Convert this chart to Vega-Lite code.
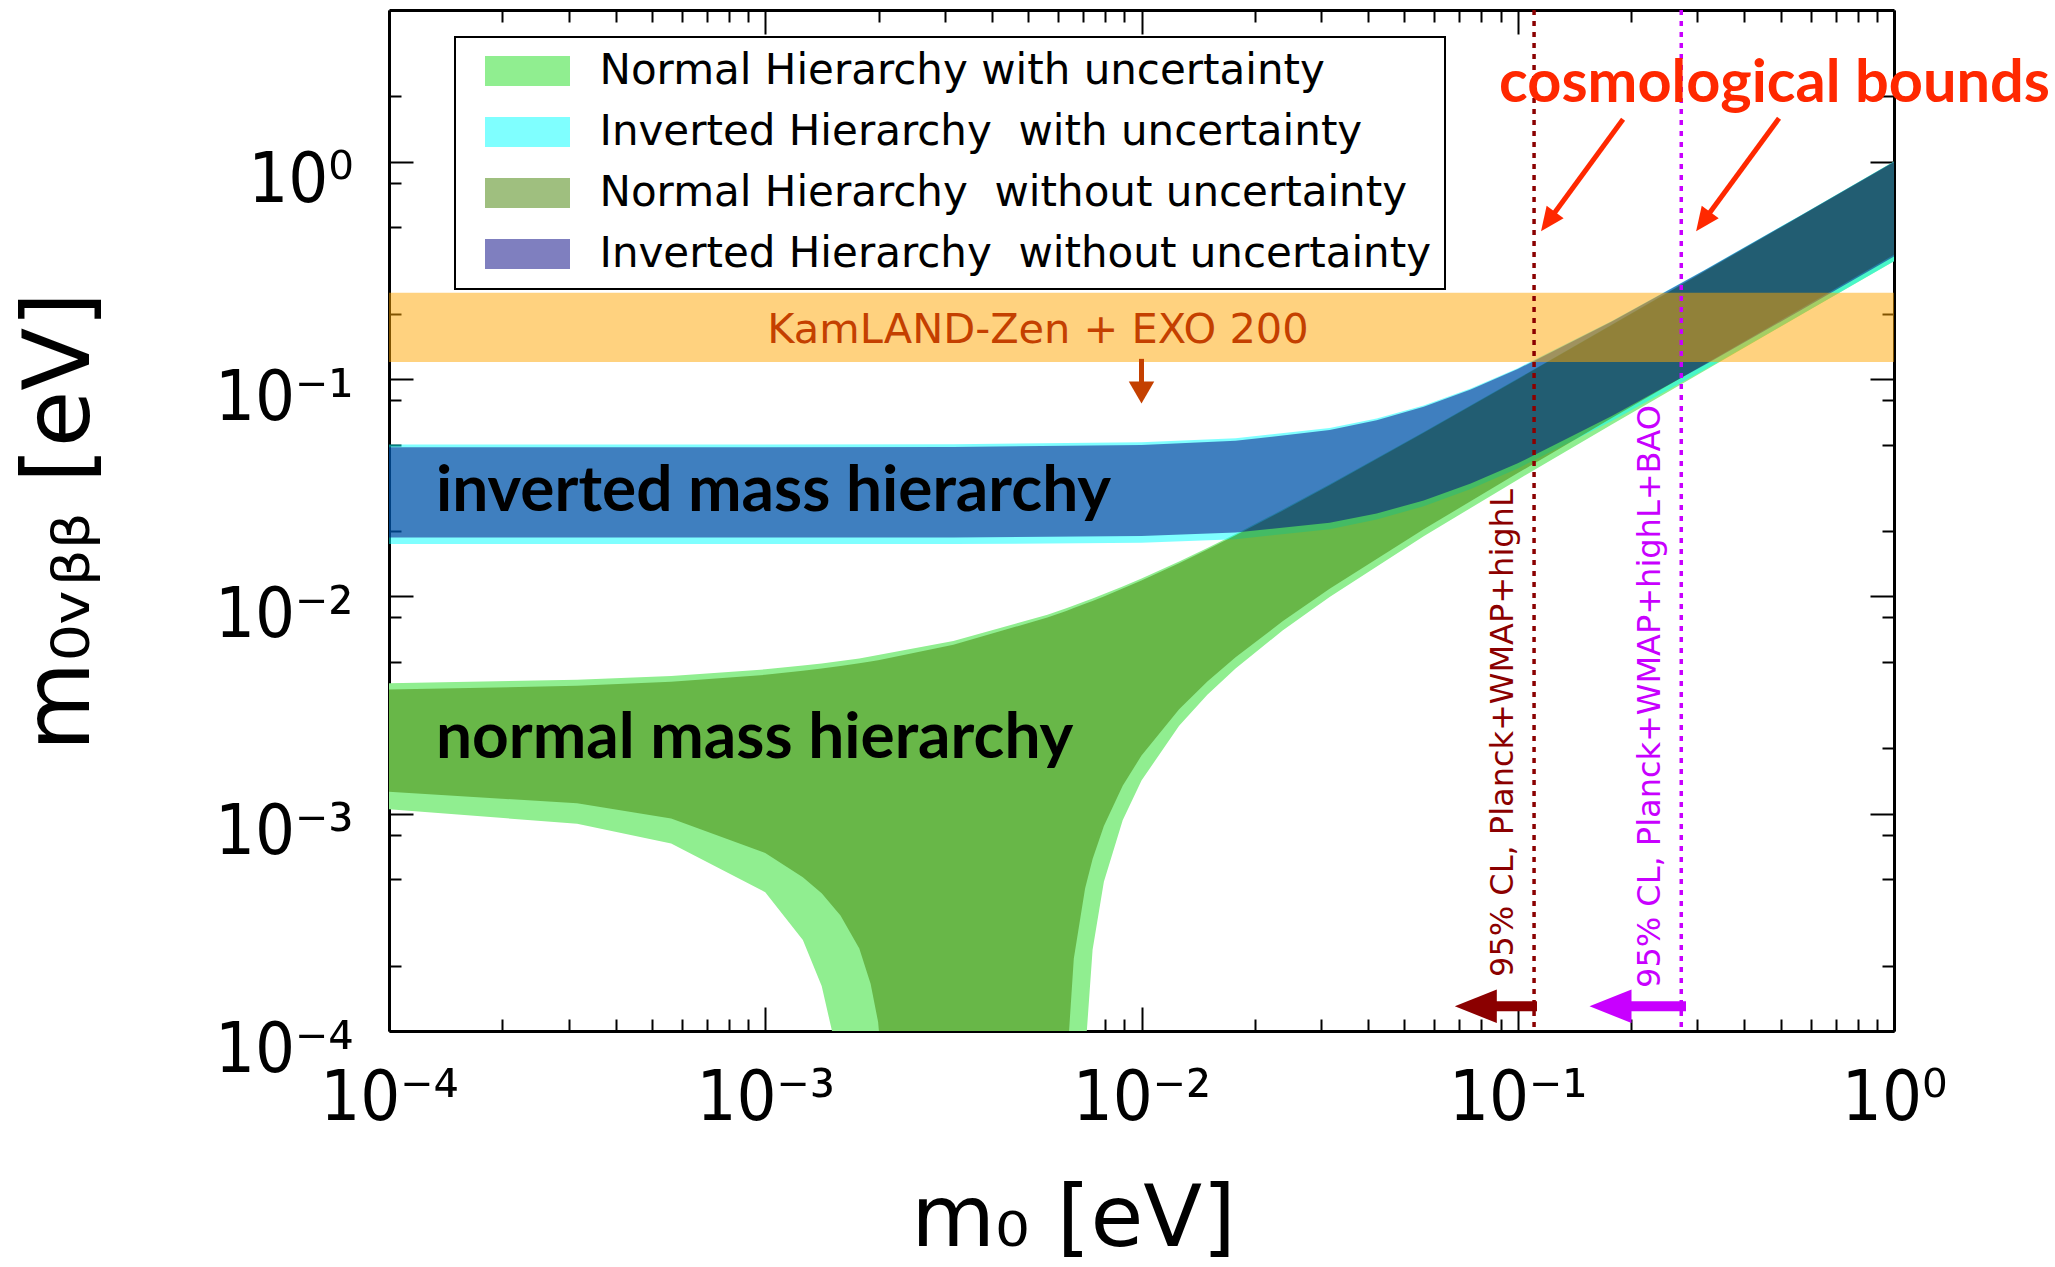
{
  "$schema": "https://vega.github.io/schema/vega-lite/v6.json",
  "width": 1505,
  "height": 1021,
  "autosize": {"type": "none"},
  "padding": {"left": 389, "top": 10, "right": 161, "bottom": 236},
  "background": "white",
  "config": {
    "view": {"stroke": null},
    "axis": {
      "grid": false,
      "domainColor": "black",
      "domainWidth": 3,
      "tickColor": "black",
      "tickWidth": 2,
      "labelColor": "black",
      "titleColor": "black",
      "labelFont": "DejaVu Sans Condensed, DejaVu Sans",
      "labelFontSize": 70,
      "titleFont": "DejaVu Sans",
      "titleFontSize": 90,
      "titleFontWeight": "normal",
      "labelOverlap": false,
      "labelFlush": false,
      "labelBound": false
    },
    "legend": {
      "orient": "none",
      "legendX": 66,
      "legendY": 27,
      "padding": 13.5,
      "strokeColor": "black",
      "strokeWidth": 2,
      "fillColor": "white",
      "symbolType": "M-1,-0.353H1V0.353H-1Z",
      "symbolSize": 7225,
      "symbolStrokeWidth": 0,
      "symbolOffset": 16.5,
      "labelOffset": 29.5,
      "labelFont": "DejaVu Sans",
      "labelFontSize": 42,
      "labelColor": "black",
      "labelLimit": 0,
      "rowPadding": 18,
      "clipHeight": 41
    }
  },
  "datasets": {
    "nh_with": [
      {"series": "Normal Hierarchy with uncertainty", "m0": 0.0001, "upper": 0.003988, "lower": 0.001049},
      {"series": "Normal Hierarchy with uncertainty", "m0": 0.0003162, "upper": 0.004137, "lower": 0.000899},
      {"series": "Normal Hierarchy with uncertainty", "m0": 0.0005623, "upper": 0.004307, "lower": 0.00073},
      {"series": "Normal Hierarchy with uncertainty", "m0": 0.001, "upper": 0.004617, "lower": 0.000435},
      {"series": "Normal Hierarchy with uncertainty", "m0": 0.0012589, "upper": 0.004804, "lower": 0.000262},
      {"series": "Normal Hierarchy with uncertainty", "m0": 0.0014125, "upper": 0.004915, "lower": 0.000161},
      {"series": "Normal Hierarchy with uncertainty", "m0": 0.0015136, "upper": 0.004989, "lower": 0.0000956},
      {"series": "Normal Hierarchy with uncertainty", "m0": 0.0015849, "upper": 0.005041, "lower": 0.0000492},
      {"series": "Normal Hierarchy with uncertainty", "m0": 0.0017783, "upper": 0.005184, "lower": 0.00001},
      {"series": "Normal Hierarchy with uncertainty", "m0": 0.0031623, "upper": 0.006239, "lower": 0.00001},
      {"series": "Normal Hierarchy with uncertainty", "m0": 0.0056234, "upper": 0.008245, "lower": 0.00001},
      {"series": "Normal Hierarchy with uncertainty", "m0": 0.0063096, "upper": 0.008829, "lower": 0.00001},
      {"series": "Normal Hierarchy with uncertainty", "m0": 0.0066069, "upper": 0.009085, "lower": 0.00001},
      {"series": "Normal Hierarchy with uncertainty", "m0": 0.0070795, "upper": 0.009495, "lower": 0.0000769},
      {"series": "Normal Hierarchy with uncertainty", "m0": 0.0074131, "upper": 0.009786, "lower": 0.0002365},
      {"series": "Normal Hierarchy with uncertainty", "m0": 0.0079433, "upper": 0.010253, "lower": 0.000486},
      {"series": "Normal Hierarchy with uncertainty", "m0": 0.0089125, "upper": 0.011116, "lower": 0.000934},
      {"series": "Normal Hierarchy with uncertainty", "m0": 0.01, "upper": 0.012098, "lower": 0.001422},
      {"series": "Normal Hierarchy with uncertainty", "m0": 0.0125893, "upper": 0.014481, "lower": 0.00254},
      {"series": "Normal Hierarchy with uncertainty", "m0": 0.0149624, "upper": 0.016705, "lower": 0.003524},
      {"series": "Normal Hierarchy with uncertainty", "m0": 0.0177828, "upper": 0.019383, "lower": 0.004659},
      {"series": "Normal Hierarchy with uncertainty", "m0": 0.0237137, "upper": 0.025094, "lower": 0.006967},
      {"series": "Normal Hierarchy with uncertainty", "m0": 0.0316228, "upper": 0.032808, "lower": 0.009947},
      {"series": "Normal Hierarchy with uncertainty", "m0": 0.0562341, "upper": 0.057112, "lower": 0.018916},
      {"series": "Normal Hierarchy with uncertainty", "m0": 0.1, "upper": 0.10073, "lower": 0.034471},
      {"series": "Normal Hierarchy with uncertainty", "m0": 0.1778279, "upper": 0.178611, "lower": 0.061815},
      {"series": "Normal Hierarchy with uncertainty", "m0": 0.3162278, "upper": 0.317318, "lower": 0.110225},
      {"series": "Normal Hierarchy with uncertainty", "m0": 0.5623413, "upper": 0.564107, "lower": 0.196176},
      {"series": "Normal Hierarchy with uncertainty", "m0": 1, "upper": 1.003045, "lower": 0.348955}
    ],
    "ih_with": [
      {"series": "Inverted Hierarchy\u00a0 with uncertainty", "m0": 0.0001, "upper": 0.050062, "lower": 0.017426},
      {"series": "Inverted Hierarchy\u00a0 with uncertainty", "m0": 0.001, "upper": 0.050094, "lower": 0.017417},
      {"series": "Inverted Hierarchy\u00a0 with uncertainty", "m0": 0.0031623, "upper": 0.050232, "lower": 0.017419},
      {"series": "Inverted Hierarchy\u00a0 with uncertainty", "m0": 0.01, "upper": 0.051247, "lower": 0.017653},
      {"series": "Inverted Hierarchy\u00a0 with uncertainty", "m0": 0.0177828, "upper": 0.053422, "lower": 0.018321},
      {"series": "Inverted Hierarchy\u00a0 with uncertainty", "m0": 0.0316228, "upper": 0.059601, "lower": 0.020402},
      {"series": "Inverted Hierarchy\u00a0 with uncertainty", "m0": 0.0421697, "upper": 0.065873, "lower": 0.022575},
      {"series": "Inverted Hierarchy\u00a0 with uncertainty", "m0": 0.0562341, "upper": 0.075719, "lower": 0.026014},
      {"series": "Inverted Hierarchy\u00a0 with uncertainty", "m0": 0.0749894, "upper": 0.090596, "lower": 0.031222},
      {"series": "Inverted Hierarchy\u00a0 with uncertainty", "m0": 0.1, "upper": 0.112268, "lower": 0.038803},
      {"series": "Inverted Hierarchy\u00a0 with uncertainty", "m0": 0.1778279, "upper": 0.185246, "lower": 0.064265},
      {"series": "Inverted Hierarchy\u00a0 with uncertainty", "m0": 0.3162278, "upper": 0.320885, "lower": 0.111488},
      {"series": "Inverted Hierarchy\u00a0 with uncertainty", "m0": 0.5623413, "upper": 0.565739, "lower": 0.196662},
      {"series": "Inverted Hierarchy\u00a0 with uncertainty", "m0": 1, "upper": 1.00328, "lower": 0.348818}
    ],
    "nh_without": [
      {"series": "Normal Hierarchy\u00a0 without uncertainty", "m0": 0.0001, "upper": 0.003726, "lower": 0.001263},
      {"series": "Normal Hierarchy\u00a0 without uncertainty", "m0": 0.0003162, "upper": 0.003876, "lower": 0.001116},
      {"series": "Normal Hierarchy\u00a0 without uncertainty", "m0": 0.0005623, "upper": 0.004048, "lower": 0.000951},
      {"series": "Normal Hierarchy\u00a0 without uncertainty", "m0": 0.001, "upper": 0.004359, "lower": 0.00066},
      {"series": "Normal Hierarchy\u00a0 without uncertainty", "m0": 0.0012589, "upper": 0.004546, "lower": 0.00051},
      {"series": "Normal Hierarchy\u00a0 without uncertainty", "m0": 0.0014125, "upper": 0.004659, "lower": 0.00043},
      {"series": "Normal Hierarchy\u00a0 without uncertainty", "m0": 0.0015849, "upper": 0.004785, "lower": 0.00034},
      {"series": "Normal Hierarchy\u00a0 without uncertainty", "m0": 0.0017783, "upper": 0.004928, "lower": 0.00024},
      {"series": "Normal Hierarchy\u00a0 without uncertainty", "m0": 0.0019055, "upper": 0.00502, "lower": 0.000165},
      {"series": "Normal Hierarchy\u00a0 without uncertainty", "m0": 0.0019953, "upper": 0.00509, "lower": 0.00011},
      {"series": "Normal Hierarchy\u00a0 without uncertainty", "m0": 0.0020417, "upper": 0.00512, "lower": 0.00007},
      {"series": "Normal Hierarchy\u00a0 without uncertainty", "m0": 0.0031623, "upper": 0.005987, "lower": 0.00001},
      {"series": "Normal Hierarchy\u00a0 without uncertainty", "m0": 0.0056234, "upper": 0.007997, "lower": 0.00001},
      {"series": "Normal Hierarchy\u00a0 without uncertainty", "m0": 0.0063096, "upper": 0.008581, "lower": 0.0000633},
      {"series": "Normal Hierarchy\u00a0 without uncertainty", "m0": 0.0066069, "upper": 0.008837, "lower": 0.000215},
      {"series": "Normal Hierarchy\u00a0 without uncertainty", "m0": 0.0070795, "upper": 0.009246, "lower": 0.000453},
      {"series": "Normal Hierarchy\u00a0 without uncertainty", "m0": 0.0074131, "upper": 0.009537, "lower": 0.000619},
      {"series": "Normal Hierarchy\u00a0 without uncertainty", "m0": 0.0079433, "upper": 0.010004, "lower": 0.000878},
      {"series": "Normal Hierarchy\u00a0 without uncertainty", "m0": 0.0089125, "upper": 0.010866, "lower": 0.001344},
      {"series": "Normal Hierarchy\u00a0 without uncertainty", "m0": 0.01, "upper": 0.011847, "lower": 0.001853},
      {"series": "Normal Hierarchy\u00a0 without uncertainty", "m0": 0.0125893, "upper": 0.014225, "lower": 0.003022},
      {"series": "Normal Hierarchy\u00a0 without uncertainty", "m0": 0.0149624, "upper": 0.016443, "lower": 0.004055},
      {"series": "Normal Hierarchy\u00a0 without uncertainty", "m0": 0.0177828, "upper": 0.019113, "lower": 0.005249},
      {"series": "Normal Hierarchy\u00a0 without uncertainty", "m0": 0.0237137, "upper": 0.024805, "lower": 0.007683},
      {"series": "Normal Hierarchy\u00a0 without uncertainty", "m0": 0.0316228, "upper": 0.032485, "lower": 0.010839},
      {"series": "Normal Hierarchy\u00a0 without uncertainty", "m0": 0.0562341, "upper": 0.056666, "lower": 0.020374},
      {"series": "Normal Hierarchy\u00a0 without uncertainty", "m0": 0.1, "upper": 0.10003, "lower": 0.03697},
      {"series": "Normal Hierarchy\u00a0 without uncertainty", "m0": 0.1778279, "upper": 0.177427, "lower": 0.066201},
      {"series": "Normal Hierarchy\u00a0 without uncertainty", "m0": 0.3162278, "upper": 0.315248, "lower": 0.117988},
      {"series": "Normal Hierarchy\u00a0 without uncertainty", "m0": 0.5623413, "upper": 0.560443, "lower": 0.209963},
      {"series": "Normal Hierarchy\u00a0 without uncertainty", "m0": 1, "upper": 0.99654, "lower": 0.37346}
    ],
    "ih_without": [
      {"series": "Inverted Hierarchy\u00a0 without uncertainty", "m0": 0.0001, "upper": 0.04861, "lower": 0.018686},
      {"series": "Inverted Hierarchy\u00a0 without uncertainty", "m0": 0.001, "upper": 0.048637, "lower": 0.018681},
      {"series": "Inverted Hierarchy\u00a0 without uncertainty", "m0": 0.0031623, "upper": 0.04877, "lower": 0.018693},
      {"series": "Inverted Hierarchy\u00a0 without uncertainty", "m0": 0.01, "upper": 0.04979, "lower": 0.018961},
      {"series": "Inverted Hierarchy\u00a0 without uncertainty", "m0": 0.0177828, "upper": 0.051997, "lower": 0.019669},
      {"series": "Inverted Hierarchy\u00a0 without uncertainty", "m0": 0.0316228, "upper": 0.058275, "lower": 0.021833},
      {"series": "Inverted Hierarchy\u00a0 without uncertainty", "m0": 0.0421697, "upper": 0.064631, "lower": 0.024085},
      {"series": "Inverted Hierarchy\u00a0 without uncertainty", "m0": 0.0562341, "upper": 0.074579, "lower": 0.027656},
      {"series": "Inverted Hierarchy\u00a0 without uncertainty", "m0": 0.0749894, "upper": 0.089559, "lower": 0.033076},
      {"series": "Inverted Hierarchy\u00a0 without uncertainty", "m0": 0.1, "upper": 0.111312, "lower": 0.040988},
      {"series": "Inverted Hierarchy\u00a0 without uncertainty", "m0": 0.1778279, "upper": 0.184315, "lower": 0.067648},
      {"series": "Inverted Hierarchy\u00a0 without uncertainty", "m0": 0.3162278, "upper": 0.319708, "lower": 0.117199},
      {"series": "Inverted Hierarchy\u00a0 without uncertainty", "m0": 0.5623413, "upper": 0.563923, "lower": 0.206642},
      {"series": "Inverted Hierarchy\u00a0 without uncertainty", "m0": 1, "upper": 1.000207, "lower": 0.366464}
    ]
  },
  "layer": [
    {
      "layer": [
        {
          "data": {"name": "nh_with"},
          "mark": {"type": "area", "clip": true},
          "encoding": {
            "x": {
              "field": "m0", "type": "quantitative",
              "scale": {"type": "log", "domain": [0.0001, 1], "nice": false},
              "axis": {
                "orient": "bottom",
                "values": [0.0001,0.0002,0.0003,0.0004,0.0005,0.0006,0.0007,0.0008,0.0009,0.001,0.002,0.003,0.004,0.005,0.006,0.007,0.008,0.009,0.01,0.02,0.03,0.04,0.05,0.06,0.07,0.08,0.09,0.1,0.2,0.3,0.4,0.5,0.6,0.7,0.8,0.9,1],
                "tickSize": {"condition": {"test": "abs(log(datum.value) / LN10 - round(log(datum.value) / LN10)) < 0.01", "value": -24}, "value": -12},
                "labelExpr": "abs(log(datum.value) / LN10 - round(log(datum.value) / LN10)) < 0.01 ? '10' + (round(log(datum.value) / LN10) == 0 ? '\u2070' : '\u207b' + ['', '\u00b9', '\u00b2', '\u00b3', '\u2074'][-round(log(datum.value) / LN10)]) : ''",
                "labelPadding": 57,
                "labelBaseline": "top",
                "title": "m\u2080 [eV]",
                "titleFontSize": 86,
                "titleX": 684,
                "titleY": 214,
                "titleAlign": "center",
                "titleBaseline": "alphabetic"
              }
            },
            "y": {
              "field": "upper", "type": "quantitative",
              "scale": {"type": "log", "domain": [0.0001, 5], "nice": false},
              "axis": {
                "orient": "left",
                "values": [0.0001,0.0002,0.0005,0.0008,0.001,0.002,0.005,0.008,0.01,0.02,0.05,0.08,0.1,0.2,0.5,0.8,1,2],
                "tickSize": {"condition": {"test": "abs(log(datum.value) / LN10 - round(log(datum.value) / LN10)) < 0.01", "value": -24}, "value": -12},
                "labelExpr": "abs(log(datum.value) / LN10 - round(log(datum.value) / LN10)) < 0.01 ? '10' + (round(log(datum.value) / LN10) == 0 ? '\u2070' : '\u207b' + ['', '\u00b9', '\u00b2', '\u00b3', '\u2074'][-round(log(datum.value) / LN10)]) : ''",
                "labelPadding": 60,
                "labelOffset": 19,
                "labelAlign": "right",
                "labelBaseline": "middle",
                "title": "m\u2080\u1d65\u1d66\u1d66 [eV]",
                "titleFontSize": 92,
                "titleAngle": 270,
                "titleX": -301,
                "titleY": 511,
                "titleAlign": "center",
                "titleBaseline": "alphabetic"
              }
            },
            "y2": {"field": "lower"},
            "color": {
              "field": "series", "type": "nominal",
              "scale": {
                "domain": ["Normal Hierarchy with uncertainty", "Inverted Hierarchy\u00a0 with uncertainty", "Normal Hierarchy\u00a0 without uncertainty", "Inverted Hierarchy\u00a0 without uncertainty"],
                "range": ["#90ee90", "#00ffff", "#408000", "#000080"]
              },
              "legend": {"title": null}
            },
            "opacity": {
              "field": "series", "type": "nominal",
              "scale": {
                "type": "ordinal",
                "domain": ["Normal Hierarchy with uncertainty", "Inverted Hierarchy\u00a0 with uncertainty", "Normal Hierarchy\u00a0 without uncertainty", "Inverted Hierarchy\u00a0 without uncertainty"],
                "range": [1, 0.5, 0.5, 0.5]
              },
              "legend": {"title": null}
            }
          }
        },
        {
          "data": {"name": "ih_with"},
          "mark": {"type": "area", "clip": true},
          "encoding": {
            "x": {"field": "m0", "type": "quantitative", "scale": {"type": "log", "domain": [0.0001, 1], "nice": false}, "axis": {"orient": "bottom"}},
            "y": {"field": "upper", "type": "quantitative", "scale": {"type": "log", "domain": [0.0001, 5], "nice": false}, "axis": {"orient": "left"}},
            "y2": {"field": "lower"},
            "color": {"field": "series", "type": "nominal", "legend": {"title": null}},
            "opacity": {"field": "series", "type": "nominal", "scale": {"type": "ordinal"}, "legend": {"title": null}}
          }
        },
        {
          "data": {"name": "nh_without"},
          "mark": {"type": "area", "clip": true},
          "encoding": {
            "x": {"field": "m0", "type": "quantitative", "scale": {"type": "log", "domain": [0.0001, 1], "nice": false}, "axis": {"orient": "bottom"}},
            "y": {"field": "upper", "type": "quantitative", "scale": {"type": "log", "domain": [0.0001, 5], "nice": false}, "axis": {"orient": "left"}},
            "y2": {"field": "lower"},
            "color": {"field": "series", "type": "nominal", "legend": {"title": null}},
            "opacity": {"field": "series", "type": "nominal", "scale": {"type": "ordinal"}, "legend": {"title": null}}
          }
        },
        {
          "data": {"name": "ih_without"},
          "mark": {"type": "area", "clip": true},
          "encoding": {
            "x": {"field": "m0", "type": "quantitative", "scale": {"type": "log", "domain": [0.0001, 1], "nice": false}, "axis": {"orient": "bottom"}},
            "y": {"field": "upper", "type": "quantitative", "scale": {"type": "log", "domain": [0.0001, 5], "nice": false}, "axis": {"orient": "left"}},
            "y2": {"field": "lower"},
            "color": {"field": "series", "type": "nominal", "legend": {"title": null}},
            "opacity": {"field": "series", "type": "nominal", "scale": {"type": "ordinal"}, "legend": {"title": null}}
          }
        },
        {
          "data": {"values": [{"upper": 0.25, "lower": 0.12}]},
          "mark": {"type": "rect", "color": "#ffa500", "opacity": 0.5},
          "encoding": {
            "y": {"field": "upper", "type": "quantitative", "scale": {"type": "log", "domain": [0.0001, 5], "nice": false}, "axis": {"orient": "left"}},
            "y2": {"field": "lower"}
          }
        },
        {
          "data": {"values": [{"m0": 0.005307, "v": 0.146, "label": "KamLAND-Zen + EXO 200"}]},
          "mark": {"type": "text", "font": "DejaVu Sans", "fontSize": 41.5, "color": "#c44000", "align": "center", "baseline": "alphabetic"},
          "encoding": {
            "x": {"field": "m0", "type": "quantitative", "scale": {"type": "log", "domain": [0.0001, 1], "nice": false}, "axis": {"orient": "bottom"}},
            "y": {"field": "v", "type": "quantitative", "scale": {"type": "log", "domain": [0.0001, 5], "nice": false}, "axis": {"orient": "left"}},
            "text": {"field": "label"}
          }
        },
        {
          "data": {"values": [{"m0": 0.01, "v": 0.124, "v_end": 0.088}]},
          "mark": {"type": "rule", "color": "#c44000", "strokeWidth": 5},
          "encoding": {
            "x": {"field": "m0", "type": "quantitative", "scale": {"type": "log", "domain": [0.0001, 1], "nice": false}, "axis": {"orient": "bottom"}},
            "y": {"field": "v", "type": "quantitative", "scale": {"type": "log", "domain": [0.0001, 5], "nice": false}, "axis": {"orient": "left"}},
            "y2": {"field": "v_end"}
          }
        },
        {
          "data": {"values": [{"m0": 0.01, "v": 0.0868}]},
          "mark": {"type": "point", "shape": "triangle-down", "size": 650, "filled": true, "opacity": 1, "color": "#c44000"},
          "encoding": {
            "x": {"field": "m0", "type": "quantitative", "scale": {"type": "log", "domain": [0.0001, 1], "nice": false}, "axis": {"orient": "bottom"}},
            "y": {"field": "v", "type": "quantitative", "scale": {"type": "log", "domain": [0.0001, 5], "nice": false}, "axis": {"orient": "left"}}
          }
        },
        {
          "data": {"values": [
            {"m0": 0.0001333, "v": 0.02485, "label": "inverted mass hierarchy"},
            {"m0": 0.0001333, "v": 0.001809, "label": "normal mass hierarchy"}
          ]},
          "mark": {"type": "text", "font": "Lato", "fontWeight": "bold", "fontSize": 64, "color": "black", "align": "left", "baseline": "alphabetic"},
          "encoding": {
            "x": {"field": "m0", "type": "quantitative", "scale": {"type": "log", "domain": [0.0001, 1], "nice": false}, "axis": {"orient": "bottom"}},
            "y": {"field": "v", "type": "quantitative", "scale": {"type": "log", "domain": [0.0001, 5], "nice": false}, "axis": {"orient": "left"}},
            "text": {"field": "label"}
          }
        }
      ]
    },
    {
      "layer": [
        {
          "data": {"values": [{"m0": 0.083, "m0_end": 0.1125, "v": 0.00013}]},
          "mark": {"type": "rule", "color": "#8b0000", "strokeWidth": 10},
          "encoding": {
            "x": {
              "field": "m0", "type": "quantitative",
              "scale": {"type": "log", "domain": [0.0001, 1], "nice": false},
              "axis": {
                "orient": "top",
                "values": [0.0001,0.0002,0.0003,0.0004,0.0005,0.0006,0.0007,0.0008,0.0009,0.001,0.002,0.003,0.004,0.005,0.006,0.007,0.008,0.009,0.01,0.02,0.03,0.04,0.05,0.06,0.07,0.08,0.09,0.1,0.2,0.3,0.4,0.5,0.6,0.7,0.8,0.9,1],
                "tickSize": {"condition": {"test": "abs(log(datum.value) / LN10 - round(log(datum.value) / LN10)) < 0.01", "value": -24}, "value": -12},
                "labels": false,
                "title": null
              }
            },
            "x2": {"field": "m0_end"},
            "y": {
              "field": "v", "type": "quantitative",
              "scale": {"type": "log", "domain": [0.0001, 5], "nice": false},
              "axis": {
                "orient": "right",
                "values": [0.0001,0.0002,0.0005,0.0008,0.001,0.002,0.005,0.008,0.01,0.02,0.05,0.08,0.1,0.2,0.5,0.8,1,2],
                "tickSize": {"condition": {"test": "abs(log(datum.value) / LN10 - round(log(datum.value) / LN10)) < 0.01", "value": -24}, "value": -12},
                "labels": false,
                "title": null
              }
            }
          }
        },
        {
          "data": {"values": [{"m0": 0.19, "m0_end": 0.28, "v": 0.00013}]},
          "mark": {"type": "rule", "color": "#c800ff", "strokeWidth": 10},
          "encoding": {
            "x": {"field": "m0", "type": "quantitative", "scale": {"type": "log", "domain": [0.0001, 1], "nice": false}, "axis": {"orient": "top"}},
            "x2": {"field": "m0_end"},
            "y": {"field": "v", "type": "quantitative", "scale": {"type": "log", "domain": [0.0001, 5], "nice": false}, "axis": {"orient": "right"}}
          }
        },
        {
          "data": {"values": [{"m0": 0.07735, "v": 0.00013}]},
          "mark": {"type": "point", "shape": "M-1,0L1,-0.8L1,0.8Z", "size": 1764, "filled": true, "opacity": 1, "color": "#8b0000"},
          "encoding": {
            "x": {"field": "m0", "type": "quantitative", "scale": {"type": "log", "domain": [0.0001, 1], "nice": false}, "axis": {"orient": "top"}},
            "y": {"field": "v", "type": "quantitative", "scale": {"type": "log", "domain": [0.0001, 5], "nice": false}, "axis": {"orient": "right"}}
          }
        },
        {
          "data": {"values": [{"m0": 0.1764, "v": 0.00013}]},
          "mark": {"type": "point", "shape": "M-1,0L1,-0.8L1,0.8Z", "size": 1764, "filled": true, "opacity": 1, "color": "#c800ff"},
          "encoding": {
            "x": {"field": "m0", "type": "quantitative", "scale": {"type": "log", "domain": [0.0001, 1], "nice": false}, "axis": {"orient": "top"}},
            "y": {"field": "v", "type": "quantitative", "scale": {"type": "log", "domain": [0.0001, 5], "nice": false}, "axis": {"orient": "right"}}
          }
        },
        {
          "data": {"values": [{"m0": 0.1105}]},
          "mark": {"type": "rule", "color": "#8b0000", "strokeWidth": 3.5, "strokeDash": [5, 6]},
          "encoding": {
            "x": {"field": "m0", "type": "quantitative", "scale": {"type": "log", "domain": [0.0001, 1], "nice": false}, "axis": {"orient": "top"}}
          }
        },
        {
          "data": {"values": [{"m0": 0.272}]},
          "mark": {"type": "rule", "color": "#c800ff", "strokeWidth": 3.5, "strokeDash": [5, 6]},
          "encoding": {
            "x": {"field": "m0", "type": "quantitative", "scale": {"type": "log", "domain": [0.0001, 1], "nice": false}, "axis": {"orient": "top"}}
          }
        },
        {
          "data": {"values": [{"m0": 0.0971, "v": 0.0001773, "label": "95% CL, Planck+WMAP+highL"}]},
          "mark": {"type": "text", "font": "DejaVu Sans", "fontSize": 32, "color": "#8b0000", "angle": 270, "align": "left", "baseline": "alphabetic"},
          "encoding": {
            "x": {"field": "m0", "type": "quantitative", "scale": {"type": "log", "domain": [0.0001, 1], "nice": false}, "axis": {"orient": "top"}},
            "y": {"field": "v", "type": "quantitative", "scale": {"type": "log", "domain": [0.0001, 5], "nice": false}, "axis": {"orient": "right"}},
            "text": {"field": "label"}
          }
        },
        {
          "data": {"values": [{"m0": 0.2388, "v": 0.0001578, "label": "95% CL, Planck+WMAP+highL+BAO"}]},
          "mark": {"type": "text", "font": "DejaVu Sans", "fontSize": 32, "color": "#c800ff", "angle": 270, "align": "left", "baseline": "alphabetic"},
          "encoding": {
            "x": {"field": "m0", "type": "quantitative", "scale": {"type": "log", "domain": [0.0001, 1], "nice": false}, "axis": {"orient": "top"}},
            "y": {"field": "v", "type": "quantitative", "scale": {"type": "log", "domain": [0.0001, 5], "nice": false}, "axis": {"orient": "right"}},
            "text": {"field": "label"}
          }
        },
        {
          "data": {"values": [
            {"m0": 0.1905, "v": 1.571, "m0_end": 0.1217, "v_end": 0.5445},
            {"m0": 0.4948, "v": 1.588, "m0_end": 0.3144, "v_end": 0.5445}
          ]},
          "mark": {"type": "rule", "color": "#ff2800", "strokeWidth": 5},
          "encoding": {
            "x": {"field": "m0", "type": "quantitative", "scale": {"type": "log", "domain": [0.0001, 1], "nice": false}, "axis": {"orient": "top"}},
            "y": {"field": "v", "type": "quantitative", "scale": {"type": "log", "domain": [0.0001, 5], "nice": false}, "axis": {"orient": "right"}},
            "x2": {"field": "m0_end"},
            "y2": {"field": "v_end"}
          }
        },
        {
          "data": {"values": [
            {"m0": 0.1217, "v": 0.5445},
            {"m0": 0.3144, "v": 0.5445}
          ]},
          "mark": {"type": "point", "shape": "M0,-1L0.7,0.6L-0.7,0.6Z", "size": 900, "angle": 216, "filled": true, "opacity": 1, "color": "#ff2800"},
          "encoding": {
            "x": {"field": "m0", "type": "quantitative", "scale": {"type": "log", "domain": [0.0001, 1], "nice": false}, "axis": {"orient": "top"}},
            "y": {"field": "v", "type": "quantitative", "scale": {"type": "log", "domain": [0.0001, 5], "nice": false}, "axis": {"orient": "right"}}
          }
        },
        {
          "data": {"values": [{"m0": 0.0892, "v": 1.88, "label": "cosmological bounds"}]},
          "mark": {"type": "text", "font": "Lato", "fontWeight": "bold", "fontSize": 59.5, "color": "#ff2800", "align": "left", "baseline": "alphabetic"},
          "encoding": {
            "x": {"field": "m0", "type": "quantitative", "scale": {"type": "log", "domain": [0.0001, 1], "nice": false}, "axis": {"orient": "top"}},
            "y": {"field": "v", "type": "quantitative", "scale": {"type": "log", "domain": [0.0001, 5], "nice": false}, "axis": {"orient": "right"}},
            "text": {"field": "label"}
          }
        }
      ]
    }
  ],
  "resolve": {"axis": {"x": "independent", "y": "independent"}}
}
